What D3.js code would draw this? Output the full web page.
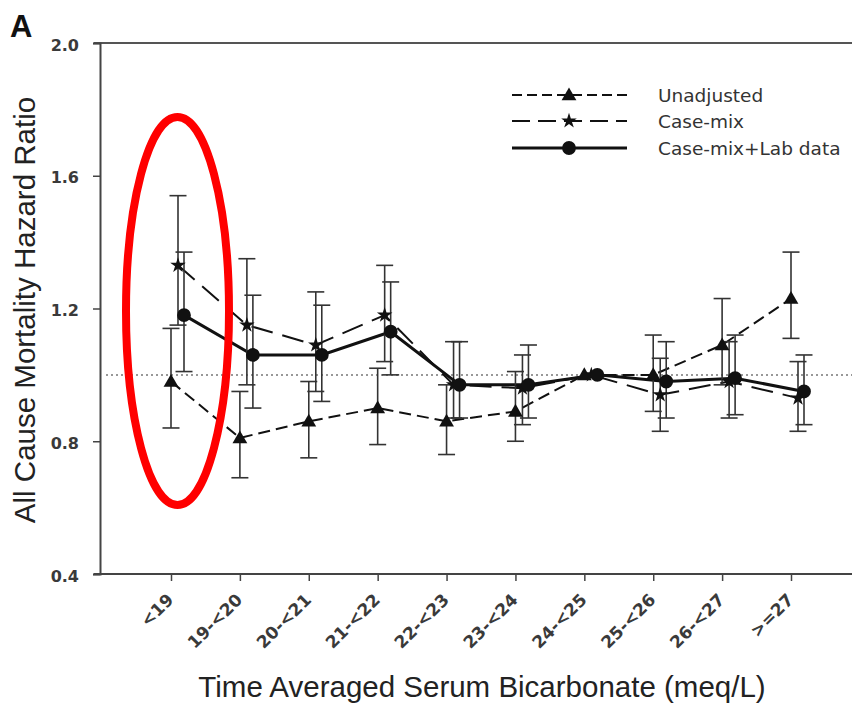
<!DOCTYPE html>
<html>
<head>
<meta charset="utf-8">
<script src="https://cdn.jsdelivr.net/npm/d3@7/dist/d3.min.js"></script>
<style>
  html, body { margin: 0; padding: 0; background: #fff; }
  svg { display: block; }
</style>
</head>
<body>
<svg id="chart" width="852" height="703"></svg>
<script>
// ---- data ----
const categories = ["<19", "19-<20", "20-<21", "21-<22", "22-<23", "23-<24", "24-<25", "25-<26", "26-<27", ">=27"];
const yTicks = [0.4, 0.8, 1.2, 1.6, 2.0];
const seriesNames = ["Unadjusted", "Case-mix", "Case-mix+Lab data"];

const unadjusted   = [0.98, 0.81, 0.86, 0.90, 0.86, 0.89, 1.00, 1.00, 1.09, 1.23];
const unadjustedLo = [0.84, 0.69, 0.75, 0.79, 0.76, 0.80, null, 0.89, 0.97, 1.11];
const unadjustedHi = [1.14, 0.95, 0.98, 1.02, 0.97, 1.01, null, 1.12, 1.23, 1.37];

const caseMix   = [1.33, 1.15, 1.09, 1.18, 0.97, 0.96, 1.00, 0.94, 0.98, 0.93];
const caseMixLo = [1.15, 0.97, 0.95, 1.04, 0.87, 0.85, null, 0.83, 0.87, 0.83];
const caseMixHi = [1.54, 1.35, 1.25, 1.33, 1.10, 1.06, null, 1.05, 1.10, 1.04];

const caseMixLab   = [1.18, 1.06, 1.06, 1.13, 0.97, 0.97, 1.00, 0.98, 0.99, 0.95];
const caseMixLabLo = [1.01, 0.90, 0.92, 1.00, 0.87, 0.87, null, 0.87, 0.88, 0.85];
const caseMixLabHi = [1.37, 1.24, 1.21, 1.28, 1.10, 1.09, null, 1.10, 1.12, 1.06];

const referenceValue = 1.0;

(function () {
// ---- layout ----
const svg = d3.select("#chart");
const plotLeft = 100, plotTop = 43, plotBottom = 574, rightEdge = 852;

const x = d3.scalePoint().domain(categories).range([171, 791]);
const y = d3.scaleLinear().domain([0.4, 2.0]).range([plotBottom, plotTop]);

const series = [
  { name: seriesNames[0], v: unadjusted, lo: unadjustedLo, hi: unadjustedHi, dx: 0,  dash: "12,6",  width: 2, symbol: d3.symbolTriangle, size: 95,  legendDash: "10,5" },
  { name: seriesNames[1], v: caseMix,    lo: caseMixLo,    hi: caseMixHi,    dx: 7,  dash: "22,10", width: 2, symbol: d3.symbolStar,     size: 75,  legendDash: "18,8" },
  { name: seriesNames[2], v: caseMixLab, lo: caseMixLabLo, hi: caseMixLabHi, dx: 13, dash: null,    width: 3, symbol: d3.symbolCircle,   size: 150, legendDash: null }
];

// frame lines
svg.append("line").attr("x1", 94).attr("x2", rightEdge).attr("y1", plotTop).attr("y2", plotTop)
  .attr("stroke", "#555").attr("stroke-width", 2);
svg.append("line").attr("x1", 94).attr("x2", rightEdge).attr("y1", plotBottom).attr("y2", plotBottom)
  .attr("stroke", "#444").attr("stroke-width", 2);

// y axis
const yAxis = d3.axisLeft(y).tickValues(yTicks).tickFormat(d3.format(".1f")).tickSize(7).tickPadding(14);
const gy = svg.append("g").attr("transform", `translate(${plotLeft},0)`).call(yAxis);
gy.select(".domain").attr("stroke", "#444").attr("stroke-width", 2);
gy.selectAll(".tick line").attr("stroke", "#444").attr("stroke-width", 1.5);
gy.selectAll(".tick text").attr("font-family", "DejaVu Sans").attr("font-size", 16)
  .attr("font-weight", "bold").attr("fill", "#3a3a3a").attr("dy", "0.45em");

// x axis
const xAxis = d3.axisBottom(x).tickSize(7).tickSizeOuter(0);
const gx = svg.append("g").attr("transform", `translate(0,${plotBottom})`).call(xAxis);
gx.select(".domain").remove();
gx.selectAll(".tick line").attr("stroke", "#444").attr("stroke-width", 1.5);
gx.selectAll(".tick text")
  .attr("font-family", "DejaVu Sans").attr("font-size", 17).attr("font-weight", "bold").attr("fill", "#3a3a3a")
  .attr("text-anchor", "end").attr("dy", 0).attr("y", 0)
  .attr("transform", "translate(3,27) rotate(-45)");

// reference dotted line
svg.append("line").attr("x1", 106).attr("x2", rightEdge)
  .attr("y1", y(referenceValue)).attr("y2", y(referenceValue))
  .attr("stroke", "#777").attr("stroke-width", 1.5).attr("stroke-dasharray", "2,3");

// series lines
series.forEach(s => {
  const line = d3.line().x((d, i) => x(categories[i]) + s.dx).y(d => y(d));
  svg.append("path").datum(s.v).attr("d", line).attr("fill", "none")
    .attr("stroke", "#111").attr("stroke-width", s.width)
    .attr("stroke-dasharray", s.dash);
});

// error bars
series.forEach(s => {
  const g = svg.append("g").attr("stroke", "#333").attr("stroke-width", 1.6);
  s.v.forEach((v, i) => {
    if (s.lo[i] == null) return;
    const cx = x(categories[i]) + s.dx;
    g.append("line").attr("x1", cx).attr("x2", cx).attr("y1", y(s.lo[i])).attr("y2", y(s.hi[i]));
    [s.lo[i], s.hi[i]].forEach(e => {
      g.append("line").attr("x1", cx - 8.5).attr("x2", cx + 8.5).attr("y1", y(e)).attr("y2", y(e));
    });
  });
});

// markers
series.forEach(s => {
  const sym = d3.symbol().type(s.symbol).size(s.size);
  svg.append("g").selectAll("path").data(s.v).join("path")
    .attr("d", sym)
    .attr("transform", (d, i) => `translate(${x(categories[i]) + s.dx},${y(d) + (s.symbol === d3.symbolTriangle ? 1 : 0)})`)
    .attr("fill", "#111");
});

// legend
const legendRows = [95, 121, 148];
series.forEach((s, i) => {
  const ly = legendRows[i];
  svg.append("line").attr("x1", 512).attr("x2", 627).attr("y1", ly).attr("y2", ly)
    .attr("stroke", "#111").attr("stroke-width", s.width).attr("stroke-dasharray", s.legendDash);
  svg.append("path").attr("d", d3.symbol().type(s.symbol).size(s.size)())
    .attr("transform", `translate(569,${ly + (s.symbol === d3.symbolTriangle ? 1 : 0)})`).attr("fill", "#111");
  svg.append("text").attr("x", 658).attr("y", ly + 7).text(s.name)
    .attr("font-family", "DejaVu Sans").attr("font-size", 18.5).attr("fill", "#333");
});

// axis titles
svg.append("text").attr("x", 482).attr("y", 697).attr("text-anchor", "middle")
  .attr("font-family", "Liberation Sans").attr("font-size", 29.5).attr("fill", "#222")
  .text("Time Averaged Serum Bicarbonate (meq/L)");
svg.append("text").attr("transform", "translate(35,310) rotate(-90)").attr("text-anchor", "middle")
  .attr("font-family", "Liberation Sans").attr("font-size", 29.5).attr("fill", "#222")
  .text("All Cause Mortality Hazard Ratio");

// panel letter
svg.append("text").attr("x", 10).attr("y", 37)
  .attr("font-family", "Liberation Sans").attr("font-weight", "bold").attr("font-size", 31).attr("fill", "#111")
  .text("A");

// red highlight ellipse
svg.append("ellipse").attr("cx", 177.5).attr("cy", 311).attr("rx", 51.5).attr("ry", 194)
  .attr("fill", "none").attr("stroke", "#ff0000").attr("stroke-width", 8);
})();
</script>
</body>
</html>
